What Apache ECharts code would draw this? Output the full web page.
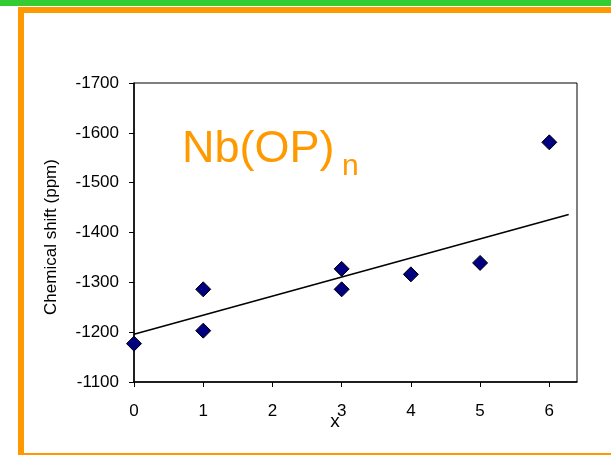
<!DOCTYPE html>
<html>
<head>
<meta charset="utf-8">
<script src="https://cdn.jsdelivr.net/npm/echarts@6/dist/echarts.min.js"></script>
<style>
  html, body { margin: 0; padding: 0; background: #fff; }
  #chart { width: 611px; height: 455px; }
</style>
</head>
<body>
<div id="chart"></div>
<script>
// Number of OP ligands vs. 93Nb chemical shift
const xValues = [0, 1, 1, 3, 3, 4, 5, 6];
const shiftValues = [-1177, -1286, -1203, -1327, -1286, -1316, -1339, -1581];

// Straight trend line drawn through the points (end points)
const trendX = [0, 6.28];
const trendY = [-1196, -1436];

const xTicks = [0, 1, 2, 3, 4, 5, 6];
const yMin = -1700, yMax = -1100, yStep = 100;

const points = xValues.map((x, i) => [x, shiftValues[i]]);
const trend = trendX.map((x, i) => [x, trendY[i]]);

const FONT = 'Liberation Sans, Arial, sans-serif';
const ORANGE = '#FF9900';

const chart = echarts.init(document.getElementById('chart'), null, { renderer: 'canvas' });
chart.setOption({
  animation: false,
  backgroundColor: '#fff',
  grid: {
    left: 134, right: 34, top: 83, bottom: 73,
    show: true, borderColor: '#000', borderWidth: 1, backgroundColor: 'transparent'
  },
  xAxis: {
    type: 'value', min: 0, max: 6.4, interval: 1,
    axisLine: { lineStyle: { color: '#000', width: 1.5 } },
    axisTick: { show: true, length: 5, customValues: xTicks, lineStyle: { color: '#000' } },
    axisLabel: { customValues: xTicks, color: '#000', fontFamily: FONT, fontSize: 17, margin: 21 },
    splitLine: { show: false }
  },
  yAxis: {
    type: 'value', min: yMin, max: yMax, interval: yStep, inverse: true,
    axisLine: { show: true, lineStyle: { color: '#000', width: 1.5 } },
    axisTick: { show: true, length: 5, lineStyle: { color: '#000' } },
    axisLabel: {
      color: '#000', fontFamily: FONT, fontSize: 17, margin: 15,
      formatter: v => String(v)
    },
    splitLine: { show: false }
  },
  series: [
    {
      type: 'line', data: trend, showSymbol: false, symbol: 'none',
      lineStyle: { color: '#000', width: 1.6 }, z: 2
    },
    {
      type: 'scatter', data: points, symbol: 'diamond', symbolSize: 15,
      itemStyle: { color: '#000080', opacity: 1, borderColor: '#000', borderWidth: 1 }, z: 3
    }
  ],
  graphic: [
    { type: 'rect', shape: { x: 0, y: 0, width: 611, height: 6 }, style: { fill: '#33CC33' } },
    { type: 'rect', shape: { x: 18, y: 7, width: 593, height: 6 }, style: { fill: ORANGE } },
    { type: 'rect', shape: { x: 18, y: 7, width: 6, height: 448 }, style: { fill: ORANGE } },
    { type: 'rect', shape: { x: 18, y: 453, width: 593, height: 2 }, style: { fill: ORANGE } },
    {
      type: 'text', x: 51, y: 237, rotation: Math.PI / 2,
      style: { text: 'Chemical shift (ppm)', fill: '#000', font: '17px ' + FONT, align: 'center', verticalAlign: 'middle' }
    },
    {
      type: 'text', x: 335, y: 422,
      style: { text: 'x', fill: '#000', font: '19px ' + FONT, align: 'center', verticalAlign: 'middle' }
    },
    {
      type: 'text', x: 182, y: 150,
      style: { text: 'Nb(OP)', fill: ORANGE, font: '45px ' + FONT, align: 'left', verticalAlign: 'middle' }
    },
    {
      type: 'text', x: 342, y: 167,
      style: { text: 'n', fill: ORANGE, font: '30px ' + FONT, align: 'left', verticalAlign: 'middle' }
    }
  ]
});
</script>
</body>
</html>
